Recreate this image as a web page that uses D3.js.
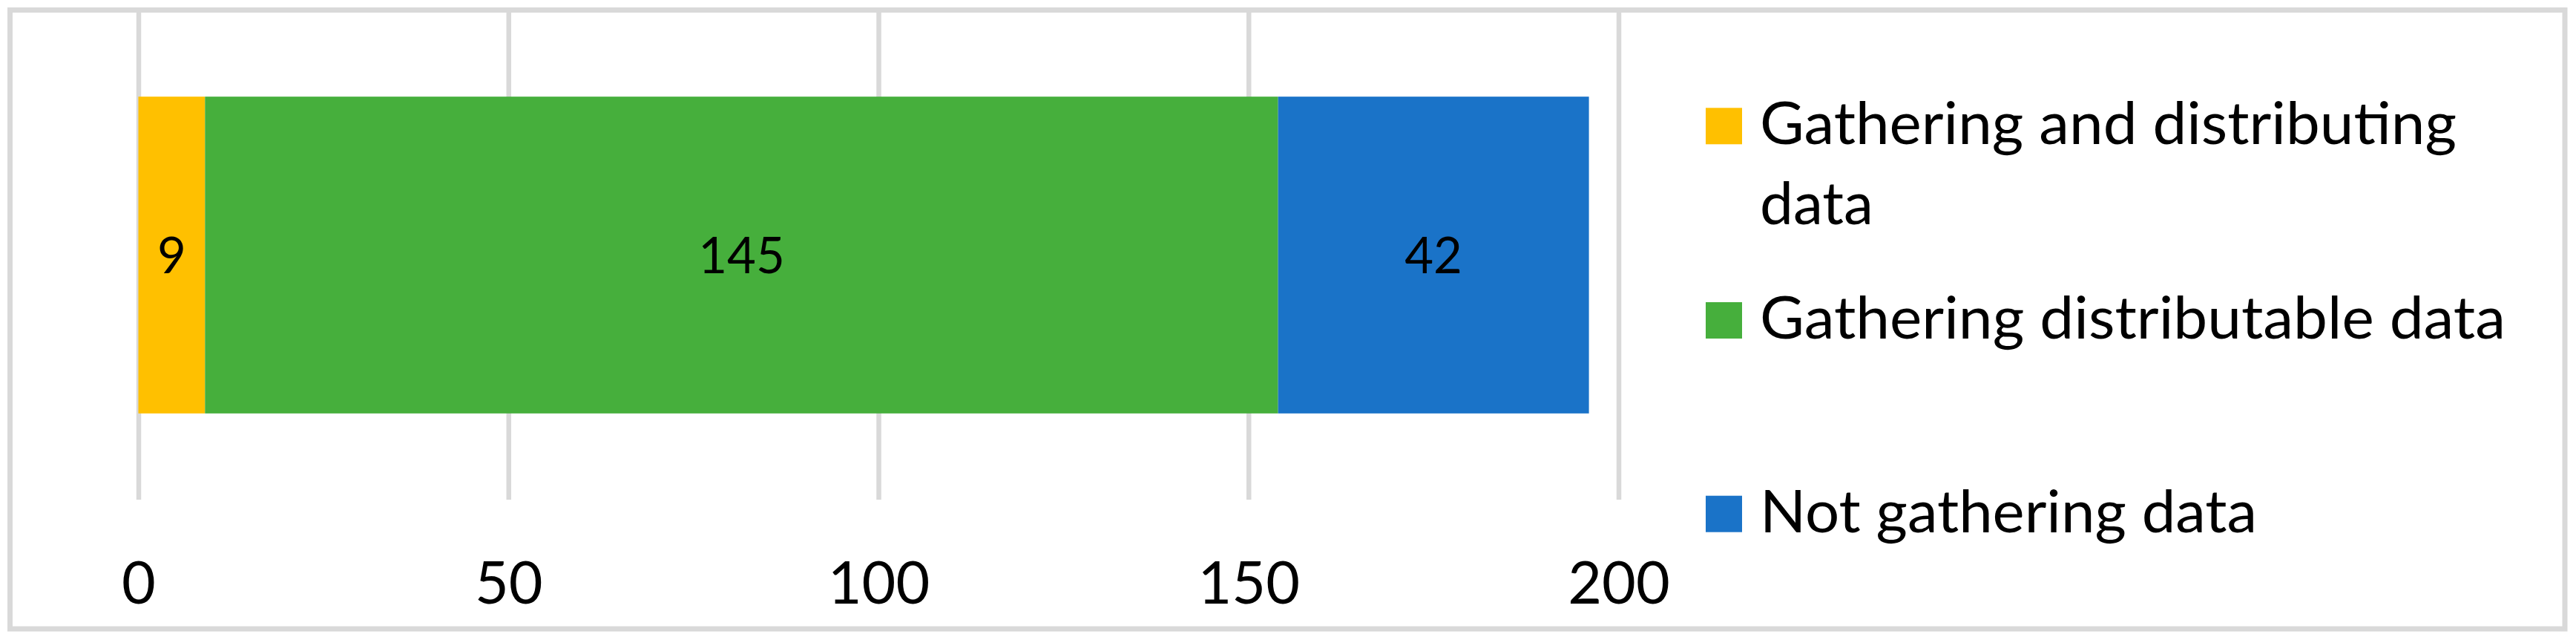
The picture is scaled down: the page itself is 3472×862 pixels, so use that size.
<!DOCTYPE html>
<html>
<head>
<meta charset="utf-8">
<script src="https://cdn.jsdelivr.net/npm/d3@7"></script>
<style>
  body { margin: 0; background: #fff; }
  text { font-family: Lato, "Open Sans", sans-serif; fill: #000; }
</style>
</head>
<body>
<div id="wrapper"></div>
<script>
// data
var SERIES = ["Gathering and distributing data", "Gathering distributable data", "Not gathering data"];
var VALUES = [9, 145, 42];
var COLORS = ["#FFC000", "#46AF3C", "#1A73C8"];
var TICKS = [0, 50, 100, 150, 200];
var ROWS = ["all"];
// legend lines (first entry wraps onto two lines)
var LEGEND_LINES = [["Gathering and distributing", "data"], ["Gathering distributable data"], ["Not gathering data"]];

function build() {
    var dimension = {
        width: 3472,
        height: 862,
        margin: { top: 14, right: 1290, bottom: 189, left: 186.5 }
    };
    dimension.boundedWidth = dimension.width - dimension.margin.left - dimension.margin.right;
    dimension.boundedHeight = dimension.height - dimension.margin.top - dimension.margin.bottom;

    const wrapper = d3.select("#wrapper")
        .append("svg")
        .attr("width", dimension.width)
        .attr("height", dimension.height);

    // chart border
    wrapper.append("rect")
        .attr("x", 13.5).attr("y", 13.5)
        .attr("width", 3457 - 13.5).attr("height", 847 - 13.5)
        .attr("fill", "#fff")
        .attr("stroke", "#d9d9d9")
        .attr("stroke-width", 7);

    const bounds = wrapper.append("g")
        .attr("transform", `translate(${dimension.margin.left},${dimension.margin.top})`);

    var x = d3.scaleLinear().domain([0, 200]).range([0, 1995]);
    var y = d3.scaleBand().domain(ROWS).range([0, dimension.boundedHeight]).padding(0.214);

    // gridlines + tick labels
    const xAxis = bounds.append("g")
        .attr("transform", `translate(0,${dimension.boundedHeight})`)
        .call(d3.axisBottom(x).tickValues(TICKS).tickSize(-dimension.boundedHeight).tickFormat(d3.format("d")));
    xAxis.select(".domain").remove();
    xAxis.selectAll("line").attr("stroke", "#d9d9d9").attr("stroke-width", 6.5);
    xAxis.selectAll("text")
        .attr("y", 140)
        .attr("dy", 0)
        .style("font-size", "79px")
        .style("font-family", "Lato, sans-serif")
        .attr("fill", "#000");

    // stacked bar
    var row = {};
    SERIES.forEach((s, i) => row[s] = VALUES[i]);
    var stacked = d3.stack().keys(SERIES)([row]);

    const layers = bounds.selectAll("g.layer")
        .data(stacked)
        .enter()
        .append("g")
        .attr("class", "layer");

    layers.append("rect")
        .attr("x", d => x(d[0][0]))
        .attr("y", y("all"))
        .attr("width", d => x(d[0][1]) - x(d[0][0]))
        .attr("height", y.bandwidth())
        .attr("fill", (d, i) => COLORS[i]);

    layers.append("text")
        .attr("x", d => (x(d[0][0]) + x(d[0][1])) / 2)
        .attr("y", y("all") + y.bandwidth() / 2 + 24)
        .style("text-anchor", "middle")
        .style("font-size", "67px")
        .text((d, i) => VALUES[i]);

    // legend
    var legendBase = [194.3, 456, 716.7];
    // widths of the legend lines as measured in the reference (Calibri is narrower)
    var lineWidths = [[939, 153], [1005], [670]];
    const legend = wrapper.append("g")
        .selectAll("g")
        .data(SERIES)
        .enter()
        .append("g");

    legend.append("rect")
        .attr("x", 2299)
        .attr("y", (d, i) => legendBase[i] - 49)
        .attr("width", 49)
        .attr("height", 49)
        .attr("fill", (d, i) => COLORS[i]);

    legend.append("text")
        .attr("x", 2372)
        .attr("y", (d, i) => legendBase[i])
        .style("font-size", "79px")
        .each(function(d, i) {
            d3.select(this).selectAll("tspan")
                .data(LEGEND_LINES[i])
                .enter()
                .append("tspan")
                .attr("x", 2372)
                .attr("dy", (t, j) => j == 0 ? 0 : 107.4)
                .attr("textLength", (t, j) => lineWidths[i][j])
                .attr("lengthAdjust", "spacingAndGlyphs")
                .text(t => t);
        });
}

build();
</script>
</body>
</html>
